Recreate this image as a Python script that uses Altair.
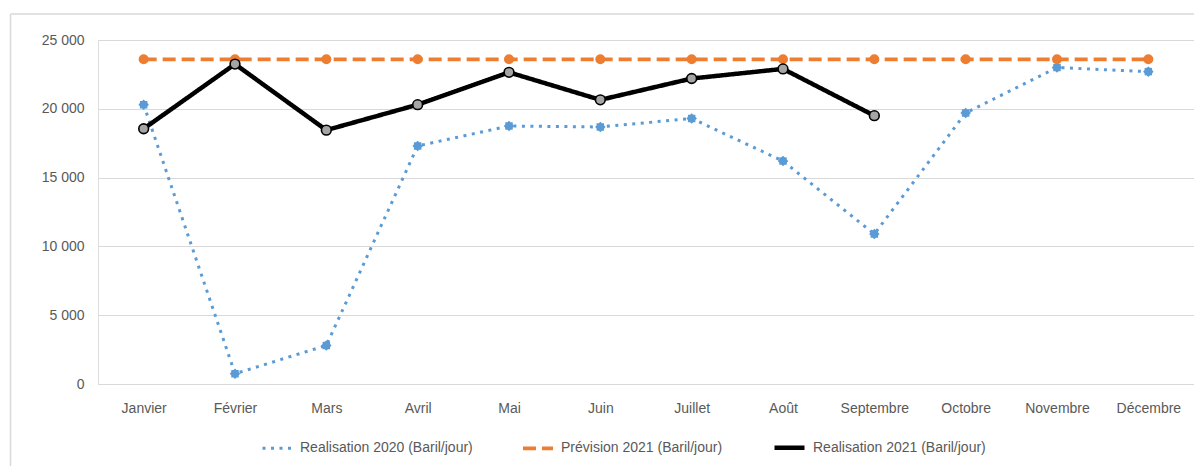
import math
import altair as alt
import pandas as pd

months = ["Janvier", "Février", "Mars", "Avril", "Mai", "Juin", "Juillet",
          "Août", "Septembre", "Octobre", "Novembre", "Décembre"]
real_2020 = [20300, 750, 2800, 17300, 18750, 18680, 19300, 16200, 10900, 19700, 23000, 22700]
prev_2021 = [23600] * 12
real_2021 = [18550, 23250, 18450, 20300, 22650, 20650, 22200, 22900, 19500]

series_names = ["Realisation 2020 (Baril/jour)", "Prévision 2021 (Baril/jour)",
                "Realisation 2021 (Baril/jour)"]
colors = ["#5B9BD5", "#ED7D31", "#000000"]

rows = []
for name, vals in zip(series_names, [real_2020, prev_2021, real_2021]):
    for m, v in zip(months, vals):
        rows.append({"Mois": m, "Valeur": v, "Serie": name})
df = pd.DataFrame(rows)

# jagged round marker shape (unit coordinates)
pts = []
for k in range(16):
    r = 1.0 if k % 2 == 0 else 0.78
    a = math.pi * 2 * k / 16
    pts.append(f"{r * math.cos(a):.3f},{r * math.sin(a):.3f}")
STAR = "M" + " L".join(pts) + " Z"

FONT = "Liberation Sans"
W, H = 1096, 344

x_enc = alt.X("Mois:N", sort=months, title=None,
              scale=alt.Scale(paddingInner=0, paddingOuter=0.5),
              axis=alt.Axis(labelAngle=0, ticks=False, domain=False, labelPadding=17,
                            labelFontSize=14, labelColor="#595959", labelFont=FONT, grid=False))
y_enc = alt.Y("Valeur:Q", title=None,
              scale=alt.Scale(domain=[0, 25000], nice=False),
              axis=alt.Axis(values=[0, 5000, 10000, 15000, 20000, 25000], ticks=False,
                            domain=False, labelPadding=14, labelFontSize=14,
                            labelColor="#595959", labelFont=FONT, gridColor="#D9D9D9",
                            gridWidth=1.2,
                            labelExpr="replace(format(datum.value, ','), ',', ' ')"))

color_enc = alt.Color("Serie:N", sort=series_names,
                      scale=alt.Scale(domain=series_names, range=colors),
                      legend=alt.Legend(title=None, orient="none", direction="horizontal",
                                        legendX=163, legendY=390, symbolType="stroke",
                                        symbolSize=900, symbolStrokeWidth=4,
                                        labelFontSize=14, labelFont=FONT, labelLimit=400,
                                        labelColor="#595959", labelOffset=6,
                                        columnPadding=42))
dash_enc = alt.StrokeDash("Serie:N", sort=series_names,
                          scale=alt.Scale(domain=series_names,
                                          range=[[3, 5.5], [13, 6], [1, 0]]),
                          legend=alt.Legend(title=None))
width_enc = alt.StrokeWidth("Serie:N", sort=series_names,
                            scale=alt.Scale(domain=series_names, range=[3, 4.5, 3]),
                            legend=None)

lines = alt.Chart(df).mark_line().encode(
    x=x_enc, y=y_enc, color=color_enc, strokeDash=dash_enc, strokeWidth=width_enc,
    detail="Serie:N")

pts_blue = alt.Chart(df[df["Serie"] == series_names[0]]).mark_point(
    filled=True, shape=STAR, size=110, color="#5B9BD5", opacity=1).encode(
    x=alt.X("Mois:N", sort=months), y="Valeur:Q")
pts_orange = alt.Chart(df[df["Serie"] == series_names[1]]).mark_point(
    filled=True, shape="circle", size=100, color="#ED7D31", opacity=1).encode(
    x=alt.X("Mois:N", sort=months), y="Valeur:Q")
pts_black = alt.Chart(df[df["Serie"] == series_names[2]]).mark_point(
    filled=True, shape="circle", size=95, fill="#A5A5A5", stroke="#000000",
    strokeWidth=1.6, opacity=1).encode(
    x=alt.X("Mois:N", sort=months), y="Valeur:Q")

border_data = alt.Data(values=[{"k": 1}])
border_top = alt.Chart(border_data).mark_rule(color="#D9D9D9", strokeWidth=1.5).encode(
    x=alt.value(-87.5), x2=alt.value(W + 20), y=alt.value(-26))
border_left = alt.Chart(border_data).mark_rule(color="#D9D9D9", strokeWidth=1.5).encode(
    x=alt.value(-87.5), y=alt.value(-26), y2=alt.value(H + 100))

chart = alt.layer(border_top, border_left, lines, pts_blue, pts_orange, pts_black).properties(
    width=W, height=H,
    autosize=alt.AutoSizeParams(type="none"),
    padding={"left": 90, "top": 32, "right": 0, "bottom": 82},
).configure_view(stroke=None).configure(background="white")

chart.save("out.html", embed_options={"renderer": "svg", "actions": False})
